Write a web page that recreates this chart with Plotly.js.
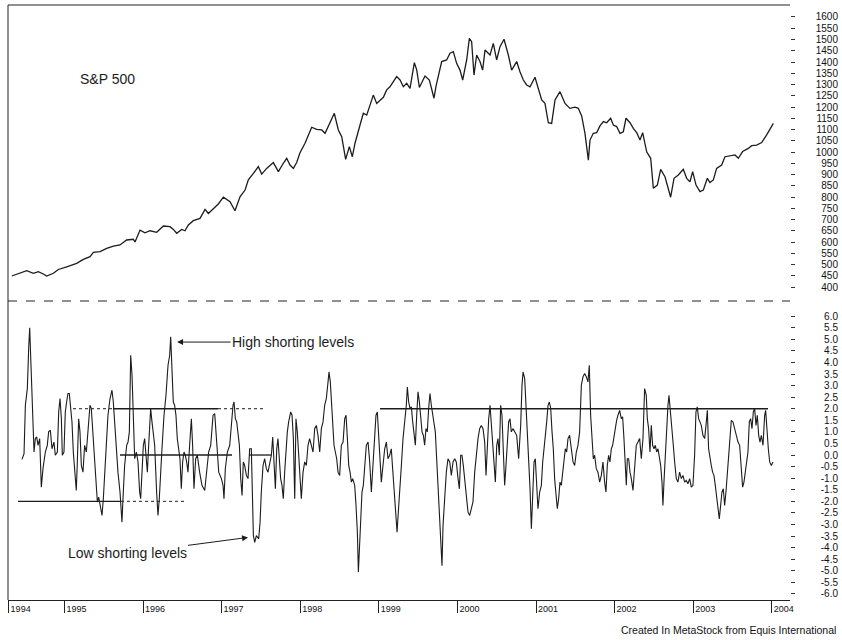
<!DOCTYPE html>
<html><head><meta charset="utf-8">
<script src="https://cdn.plot.ly/plotly-3.0.1.min.js"></script>
<style>html,body{margin:0;padding:0;background:#fff}#chart{width:842px;height:640px}</style>
</head><body><div id="chart"></div>
<script>
// ---------- DATA ----------
const yearTickValues = [1994.29, 1995, 1996, 1997, 1998, 1999, 2000, 2001, 2002, 2003, 2004];
const yearTickLabels = ['1994','1995','1996','1997','1998','1999','2000','2001','2002','2003','2004'];

const spxTickValues = [1600,1550,1500,1450,1400,1350,1300,1250,1200,1150,1100,1050,1000,950,900,850,800,750,700,650,600,550,500,450,400];
const oscTickValues = [6.0,5.5,5.0,4.5,4.0,3.5,3.0,2.5,2.0,1.5,1.0,0.5,0.0,-0.5,-1.0,-1.5,-2.0,-2.5,-3.0,-3.5,-4.0,-4.5,-5.0,-5.5,-6.0];

// S&P 500 (weekly-ish readings)
const spxYear = [
1994.330,1994.435,1994.520,1994.605,1994.668,1994.732,1994.774,1994.859,1994.923,1995.029,
1995.156,1995.241,1995.326,1995.368,1995.453,1995.538,1995.623,1995.707,1995.792,1995.877,
1995.898,1995.962,1996.025,1996.089,1996.174,1996.259,1996.344,1996.386,1996.428,1996.492,
1996.534,1996.577,1996.640,1996.725,1996.789,1996.831,1996.895,1996.958,1997.022,1997.107,
1997.170,1997.234,1997.298,1997.340,1997.404,1997.467,1997.510,1997.573,1997.658,1997.722,
1997.785,1997.828,1997.870,1997.913,1997.955,1997.997,1998.061,1998.146,1998.210,1998.273,
1998.316,1998.379,1998.434,1998.485,1998.528,1998.578,1998.625,1998.663,1998.697,1998.761,
1998.803,1998.846,1998.888,1998.930,1998.973,1999.015,1999.058,1999.100,1999.142,1999.185,
1999.227,1999.270,1999.312,1999.355,1999.397,1999.452,1999.482,1999.516,
1999.588,1999.643,1999.672,1999.702,1999.728,1999.757,1999.800,1999.863,1999.906,1999.948,
1999.990,2000.033,2000.067,2000.118,2000.152,2000.181,2000.211,2000.245,2000.287,2000.321,
2000.351,2000.415,2000.457,2000.499,2000.542,2000.593,2000.648,2000.690,2000.754,2000.796,
2000.839,2000.881,2000.924,2000.987,2001.030,2001.072,2001.114,2001.157,2001.199,2001.242,
2001.305,2001.369,2001.432,2001.496,2001.538,2001.581,2001.623,2001.666,2001.687,2001.729,
2001.772,2001.814,2001.857,2001.899,2001.950,2001.984,2002.026,2002.069,2002.111,2002.145,
2002.196,2002.238,2002.281,2002.323,2002.357,2002.408,2002.459,2002.493,2002.544,2002.586,
2002.641,2002.684,2002.713,2002.756,2002.811,2002.874,2002.917,2002.959,2002.993,2003.036,
2003.086,2003.129,2003.180,2003.213,2003.256,2003.298,2003.362,2003.404,2003.468,2003.532,
2003.574,2003.629,2003.701,2003.744,2003.807,2003.871,2003.935,2003.986,2004.020];
const spxValue = [
449,461,473,461,468,458,449,461,478,490,
505,523,535,554,557,572,582,587,609,612,
600,653,641,650,643,671,668,656,639,656,
650,676,695,705,745,727,750,769,799,779,
739,801,831,876,905,935,902,927,953,913,
950,972,942,927,953,997,1039,1110,1101,1098,
1083,1130,1172,1098,1068,967,1024,979,1039,1120,
1172,1164,1209,1253,1216,1231,1243,1276,1290,1313,
1335,1320,1290,1305,1283,1397,1365,1287,
1338,1320,1276,1239,1293,1342,1402,1409,1439,1446,
1394,1364,1320,1409,1505,1490,1342,1431,1402,1364,
1453,1431,1483,1409,1468,1501,1431,1364,1402,1357,
1320,1298,1290,1332,1283,1231,1216,1130,1127,1231,
1268,1216,1194,1199,1194,1160,1083,964,1053,1083,
1086,1116,1135,1130,1150,1120,1113,1083,1090,1150,
1130,1105,1086,1053,1086,1001,972,839,853,923,
890,831,799,883,898,923,883,868,913,853,
824,831,883,864,876,927,942,979,982,987,
972,1002,1016,1028,1031,1042,1076,1105,1127];

// Short-interest oscillator
const oscYear = [
1994.460,1994.486,1994.503,1994.528,1994.545,1994.558,1994.570,1994.587,1994.600,1994.613,
1994.630,1994.647,1994.664,1994.685,1994.706,1994.727,1994.757,1994.782,1994.799,1994.821,
1994.842,1994.867,1994.884,1994.910,1994.927,1994.944,1994.961,1994.973,1994.994,1995.011,
1995.028,1995.045,1995.062,1995.079,1995.096,1995.113,1995.130,1995.151,1995.164,1995.181,
1995.198,1995.215,1995.236,1995.257,1995.279,1995.300,1995.325,1995.342,1995.359,1995.376,
1995.397,1995.419,1995.436,1995.452,1995.478,1995.495,1995.512,1995.533,1995.554,1995.580,
1995.605,1995.622,1995.639,1995.660,1995.681,1995.707,1995.732,1995.749,1995.766,1995.792,
1995.809,1995.826,1995.843,1995.860,1995.877,1995.894,1995.915,1995.936,1995.957,1995.970,
1995.987,1996.004,1996.021,1996.038,1996.055,1996.072,1996.097,1996.114,1996.131,1996.148,
1996.173,1996.190,1996.207,1996.224,1996.241,1996.267,1996.292,1996.318,1996.339,1996.352,
1996.369,1996.385,1996.402,1996.419,1996.436,1996.453,1996.470,1996.487,1996.504,1996.521,
1996.538,1996.555,1996.572,1996.593,1996.615,1996.631,1996.648,1996.670,1996.691,1996.720,
1996.750,
1996.785,1996.806,1996.835,1996.861,1996.891,1996.912,1996.929,1996.946,1996.963,1996.980,
1996.997,1997.018,1997.030,1997.047,1997.073,1997.103,1997.124,1997.145,1997.158,1997.175,
1997.192,1997.209,1997.226,1997.243,1997.260,1997.276,1997.293,1997.315,1997.336,1997.357,
1997.378,1997.391,1997.404,1997.421,1997.442,1997.472,1997.489,1997.505,1997.527,1997.548,
1997.569,1997.590,1997.611,1997.633,1997.650,1997.667,1997.684,1997.701,1997.717,1997.734,
1997.751,1997.768,1997.785,1997.802,1997.819,1997.836,1997.853,1997.879,1997.896,1997.913,
1997.930,1997.946,1997.963,1997.980,1997.997,1998.014,1998.036,1998.057,1998.078,1998.099,
1998.120,1998.142,1998.163,1998.184,1998.205,1998.226,1998.248,1998.269,1998.290,1998.311,
1998.332,1998.354,1998.366,1998.383,1998.396,1998.413,1998.430,1998.447,1998.464,1998.481,
1998.502,1998.523,1998.545,1998.566,1998.583,1998.600,1998.617,1998.634,1998.651,1998.667,
1998.693,1998.710,1998.727,1998.740,1998.752,1998.769,1998.786,1998.803,1998.820,1998.841,
1998.863,1998.884,1998.905,1998.926,1998.947,1998.964,1998.981,1998.998,1999.015,1999.032,
1999.053,1999.075,1999.096,1999.117,1999.138,1999.159,
1999.176,1999.193,1999.210,1999.232,1999.248,1999.265,1999.287,1999.308,1999.329,1999.350,
1999.363,1999.380,1999.397,1999.414,1999.431,1999.448,1999.465,1999.482,1999.499,1999.516,
1999.533,1999.550,1999.567,1999.583,1999.600,1999.617,1999.634,1999.651,1999.668,1999.685,
1999.702,1999.719,1999.736,1999.753,1999.770,1999.787,1999.804,1999.817,1999.838,1999.859,
1999.880,1999.902,1999.923,1999.944,1999.965,1999.986,2000.008,2000.025,2000.042,2000.058,
2000.075,2000.092,2000.114,2000.135,2000.156,2000.177,2000.198,2000.220,2000.241,2000.262,
2000.283,2000.304,2000.326,2000.347,2000.364,2000.381,2000.398,2000.415,2000.432,2000.449,
2000.466,2000.483,2000.500,2000.516,2000.533,2000.550,2000.567,2000.584,2000.601,2000.618,
2000.635,2000.652,2000.669,2000.686,2000.707,2000.729,2000.754,2000.779,2000.805,2000.822,
2000.835,2000.856,2000.873,2000.890,2000.907,2000.924,2000.941,2000.958,2000.975,2000.991,
2001.008,2001.025,2001.047,2001.068,2001.085,2001.102,2001.119,2001.136,2001.153,2001.170,
2001.187,2001.204,2001.220,2001.237,2001.254,2001.271,2001.288,2001.305,2001.322,2001.339,
2001.356,2001.373,2001.390,2001.407,2001.428,2001.449,2001.471,2001.492,2001.513,2001.534,
2001.555,2001.577,
2001.598,2001.619,2001.640,2001.661,2001.678,2001.695,2001.712,2001.729,2001.746,2001.767,
2001.788,2001.810,2001.831,2001.852,2001.873,2001.890,2001.907,2001.924,2001.941,2001.958,
2001.975,2001.992,2002.009,2002.026,2002.043,2002.064,2002.085,2002.102,2002.119,2002.136,
2002.149,2002.162,2002.179,2002.196,2002.213,2002.234,2002.255,2002.276,2002.297,2002.319,
2002.340,2002.361,2002.382,2002.403,2002.416,2002.433,2002.450,2002.467,2002.484,2002.501,
2002.518,2002.535,2002.552,2002.569,2002.586,2002.603,2002.615,2002.628,2002.645,2002.662,
2002.679,2002.692,2002.709,2002.730,2002.747,2002.764,2002.785,2002.806,2002.827,2002.849,
2002.870,2002.891,2002.912,2002.933,2002.955,2002.976,2002.997,2003.018,2003.035,2003.052,
2003.069,2003.086,2003.103,2003.124,2003.146,2003.167,2003.180,2003.196,2003.213,2003.230,
2003.247,2003.264,2003.281,2003.298,2003.315,2003.332,2003.349,2003.366,2003.383,2003.400,
2003.417,2003.434,2003.451,2003.468,2003.485,2003.506,2003.527,2003.548,2003.570,2003.591,
2003.612,2003.629,2003.646,2003.663,2003.680,2003.697,2003.714,2003.731,2003.748,2003.765,
2003.782,2003.799,2003.816,2003.833,2003.850,2003.867,2003.888,2003.909,2003.922,2003.939,
2003.956,2003.973,2003.994,2004.015];
const oscValue = [
-0.19,0.06,2.15,2.87,4.60,5.50,4.31,2.73,1.72,0.13,
0.71,0.78,0.42,0.71,-1.39,-0.59,0.13,0.42,1.00,1.07,
0.27,0.56,-0.01,0.13,1.86,2.44,1.57,-0.01,0.13,1.86,
2.29,2.66,2.66,2.01,1.43,0.13,-0.59,-1.53,-0.30,1.57,
1.00,-0.45,-0.74,0.42,0.13,1.00,2.15,2.01,1.00,0.13,
-1.02,-2.03,-1.82,-2.11,-2.61,-1.89,-0.74,0.42,1.72,2.44,
2.80,2.29,1.28,-0.01,-0.74,-1.60,-2.90,-1.60,-0.45,0.42,
0.56,1.00,4.31,3.45,1.43,-0.16,0.13,-0.30,-1.60,-1.89,
-0.74,0.42,0.71,-0.16,-0.74,0.42,2.01,1.43,1.00,0.42,
-1.60,-2.61,-1.89,-0.59,0.27,1.72,2.58,3.88,4.31,5.11,
3.59,2.29,2.15,1.72,0.71,0.13,-0.16,-1.46,-0.30,0.13,
-0.01,-0.30,-0.74,0.42,1.57,0.42,-1.46,-0.16,-0.01,-0.74,
-1.31,
-1.53,-0.74,0.13,0.42,1.72,1.79,0.71,0.13,-0.74,-0.88,
-1.02,-1.31,-1.89,-0.59,0.13,0.42,1.43,2.15,2.29,1.57,
1.43,1.00,0.42,-1.02,-1.75,-0.30,-0.45,-0.88,-1.02,0.27,
0.27,-1.60,-3.48,-3.77,-3.48,-3.62,-2.90,-1.60,-0.45,-0.16,
-0.59,-0.74,-0.30,-0.01,0.78,-0.74,-1.46,0.27,0.71,-0.16,
-1.02,-1.31,-1.89,-0.74,0.42,1.00,1.43,1.86,1.72,0.71,
-1.89,1.57,1.00,-0.01,-1.31,-1.89,-0.74,-0.30,-0.45,0.42,
0.71,0.42,0.13,1.14,1.28,0.85,0.13,1.14,1.43,2.15,
2.44,3.16,3.59,3.16,2.29,1.43,0.42,0.13,-0.16,-0.74,
-0.88,0.42,0.56,1.57,1.72,0.71,-0.45,-0.74,-1.17,-1.02,
-1.31,-2.18,-3.33,-5.06,-4.20,-2.76,-1.60,-1.31,-0.45,0.42,
0.56,-0.30,-1.60,-0.30,0.42,1.72,1.86,0.85,-0.30,-1.17,
-0.45,0.27,0.56,-0.16,-0.01,0.27,
-0.59,-1.46,-2.18,-3.33,-2.47,-1.31,-0.45,0.71,1.43,2.15,
2.94,2.29,2.01,2.08,1.43,1.00,0.42,1.72,2.73,2.29,
1.57,1.00,0.85,0.42,1.14,1.00,2.01,2.66,2.15,1.72,
1.28,1.00,-0.16,-1.31,-2.18,-3.91,-4.78,-3.04,-1.60,-0.74,
-0.16,-0.30,-0.88,-0.30,-0.16,-0.30,-1.02,-1.46,-0.01,-0.01,
-0.45,-1.02,-1.60,-2.47,-2.61,-2.32,-2.03,-0.74,0.13,0.71,
1.14,1.28,1.14,0.56,-0.88,0.71,1.57,2.15,1.28,0.42,
-0.30,-1.17,0.42,0.71,-0.01,2.15,1.72,0.42,-1.31,-0.45,
0.42,1.43,1.57,1.00,1.14,1.00,0.85,-0.16,1.28,3.02,
3.59,3.30,2.15,0.42,-0.16,-1.46,-3.19,-1.60,-0.30,-0.16,
-1.31,-2.32,-1.60,-1.31,-0.30,0.42,0.85,1.43,2.15,2.29,
2.01,1.00,0.27,-1.02,-1.89,-2.32,-1.89,-1.17,-1.31,-0.74,
-0.30,0.27,0.13,0.71,0.85,0.27,-0.30,-0.45,0.13,0.42,
1.00,3.02,
3.38,3.52,3.38,3.16,3.88,1.72,0.42,-0.16,-0.01,-0.59,
-0.74,-1.17,-0.88,-0.30,-1.17,-1.60,-0.45,-0.01,-0.30,0.27,
0.42,0.85,1.14,1.50,1.72,1.93,1.57,1.65,0.71,-0.45,
-1.31,-0.16,-0.16,-0.74,-1.02,-1.53,-0.59,0.42,0.56,0.71,
-0.16,0.71,2.87,2.58,1.57,1.14,0.13,1.28,0.42,0.27,
0.42,0.13,0.27,-0.01,-0.45,-1.17,-2.18,-1.17,0.13,1.00,
2.15,2.58,2.01,1.00,0.42,-0.30,-1.02,-1.17,-0.74,-1.02,
-0.88,-1.17,-1.10,-1.24,-1.02,-1.39,-1.31,-0.01,1.86,2.08,
1.57,1.43,1.28,0.85,0.71,1.43,1.93,0.27,-0.16,-0.45,
-0.74,-0.88,-1.31,-1.75,-2.32,-2.76,-2.18,-1.60,-1.46,-2.18,
-1.60,-0.74,0.13,0.71,1.50,1.43,1.14,0.85,0.56,0.42,
-0.45,-1.39,-1.17,-0.74,-0.45,0.13,1.43,1.57,1.14,1.86,
2.01,1.28,1.72,0.85,0.56,0.85,0.42,1.72,1.93,1.00,
0.27,-0.30,-0.45,-0.30];

// Reference level segments drawn on the oscillator panel
const levelStart = [1995.618, 1999.015, 1995.707, 1997.349, 1994.410];
const levelEnd   = [1996.954, 2003.952, 1997.132, 1997.628, 1995.720];
const levelValue = [2.0, 2.0, 0.0, 0.0, -2.0];
const levelDotStart = [1995.109, 1996.954, 1995.720];
const levelDotEnd   = [1995.618, 1997.552, 1996.534];
const levelDotValue = [2.0, 2.0, -2.0];

// ---------- CHART ----------
const FONT = 'Arial, "Liberation Sans", Helvetica, sans-serif';
const INK = '#1c1c1c';
const xRange = [1994.282, 2004.232];
const spxRange = [337.8, 1653.3];
const oscRange = [-6.264, 6.654];

function segs(s, e, v) {
  const x = [], y = [];
  for (let i = 0; i < s.length; i++) { x.push(s[i], e[i], null); y.push(v[i], v[i], null); }
  return {x, y};
}
const solid = segs(levelStart, levelEnd, levelValue);
const dotted = segs(levelDotStart, levelDotEnd, levelDotValue);

// empty helper traces so the tick-only overlay axes get drawn
function axisHolder(xa, ya) {
  return {x: [null], y: [null], xaxis: xa, yaxis: ya, type: 'scatter', mode: 'lines',
    hoverinfo: 'skip', showlegend: false, line: {width: 0}};
}

const traces = [
  {x: spxYear, y: spxValue, xaxis: 'x', yaxis: 'y', type: 'scatter', mode: 'lines',
   line: {color: INK, width: 1.3}, hoverinfo: 'skip'},
  {x: oscYear, y: oscValue, xaxis: 'x', yaxis: 'y2', type: 'scatter', mode: 'lines',
   line: {color: INK, width: 1.1}, hoverinfo: 'skip'},
  {x: solid.x, y: solid.y, xaxis: 'x', yaxis: 'y2', type: 'scatter', mode: 'lines',
   line: {color: INK, width: 1.3}, hoverinfo: 'skip', connectgaps: false},
  {x: dotted.x, y: dotted.y, xaxis: 'x', yaxis: 'y2', type: 'scatter', mode: 'lines',
   line: {color: INK, width: 1, dash: 'dot'}, hoverinfo: 'skip', connectgaps: false},
  axisHolder('x2', 'y2'), axisHolder('x', 'y3'), axisHolder('x', 'y4')
];

const yLabelCommon = {anchor: 'free', position: 1, side: 'left', tickmode: 'array',
  ticks: '', showgrid: false, zeroline: false, showline: false, automargin: false,
  tickfont: {family: FONT, size: 10, color: '#111'}};
const yTickCommon = {anchor: 'x', side: 'right', tickmode: 'array', ticks: 'outside',
  ticklen: 4, tickwidth: 1, tickcolor: '#333', showticklabels: false, showgrid: false,
  zeroline: false, showline: false, automargin: false};

const layout = {
  width: 842, height: 640,
  margin: {l: 8, r: 4, t: 5, b: 40},
  paper_bgcolor: '#ffffff', plot_bgcolor: '#ffffff',
  showlegend: false,
  xaxis: {domain: [0, 0.9422], range: xRange, anchor: 'y2', tickmode: 'array',
    tickvals: yearTickValues, ticktext: yearTickLabels, ticks: '', showgrid: false,
    zeroline: false, showline: true, linecolor: '#222', linewidth: 1, automargin: false,
    ticklabelshift: 12, tickfont: {family: FONT, size: 9, color: '#111'}},
  xaxis2: {overlaying: 'x', anchor: 'y2', side: 'bottom', range: xRange, tickmode: 'array',
    tickvals: yearTickValues, ticks: 'outside', ticklen: 12, tickwidth: 1, tickcolor: '#222',
    showticklabels: false, showgrid: false, zeroline: false, showline: false, automargin: false},
  yaxis: Object.assign({}, yLabelCommon, {domain: [0.5025, 1], range: spxRange,
    tickvals: spxTickValues, ticktext: spxTickValues.map(String)}),
  yaxis3: Object.assign({}, yTickCommon, {overlaying: 'y', range: spxRange, tickvals: spxTickValues}),
  yaxis2: Object.assign({}, yLabelCommon, {domain: [0, 0.5025], range: oscRange,
    tickvals: oscTickValues, ticktext: oscTickValues.map(v => v.toFixed(1))}),
  yaxis4: Object.assign({}, yTickCommon, {overlaying: 'y2', range: oscRange, tickvals: oscTickValues}),
  shapes: [
    {type: 'line', xref: 'paper', yref: 'paper', x0: 0, x1: 0.9422, y0: 1, y1: 1, line: {color: '#222', width: 1}},
    {type: 'line', xref: 'paper', yref: 'paper', x0: 0, x1: 0.9422, y0: 0.5025, y1: 0.5025, line: {color: '#222', width: 1, dash: 'dash'}},
    {type: 'line', xref: 'paper', yref: 'paper', x0: 0, x1: 0, y0: 0, y1: 1, line: {color: '#222', width: 1}}
  ],
  annotations: [
    {xref: 'paper', yref: 'paper', x: 0.0843, y: 0.8756, xanchor: 'left', yanchor: 'middle',
     text: 'S&P 500', showarrow: false, font: {family: FONT, size: 14, color: INK}},
    {xref: 'x', yref: 'y2', x: 1996.433, y: 4.88, ax: 116, ay: 0, text: 'High shorting levels',
     showarrow: true, arrowhead: 2, arrowsize: 1.2, arrowwidth: 1, arrowcolor: INK, standoff: 0,
     font: {family: FONT, size: 14, color: INK}},
    {xref: 'x', yref: 'y2', x: 1997.336, y: -3.56, ax: -121, ay: 16, text: 'Low shorting levels',
     showarrow: true, arrowhead: 2, arrowsize: 1.2, arrowwidth: 1, arrowcolor: INK, standoff: 0,
     font: {family: FONT, size: 14, color: INK}},
    {xref: 'paper', yref: 'paper', x: 1, y: -0.0504, xanchor: 'right', yanchor: 'middle',
     text: 'Created In MetaStock from Equis International', showarrow: false,
     font: {family: FONT, size: 10.5, color: '#111'}}
  ]
};

Plotly.newPlot('chart', traces, layout, {staticPlot: true, displayModeBar: false});
</script>
</body></html>
